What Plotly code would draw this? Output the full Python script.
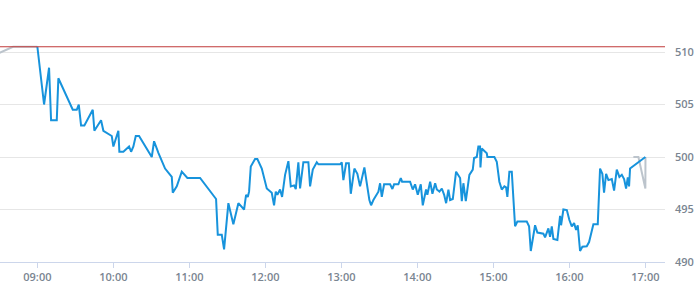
import plotly.graph_objects as go

DAY = "2024-01-02 "

price_times = [
    "09:00:00", "09:05:17", "09:09:14", "09:10:49", "09:15:19", "09:16:35", "09:27:57", "09:31:06",
    "09:32:41", "09:34:30", "09:37:06", "09:43:44", "09:45:00", "09:50:17", "09:52:06", "09:58:44",
    "10:00:00", "10:03:57", "10:04:44", "10:07:54", "10:12:24", "10:14:00", "10:15:48", "10:17:41",
    "10:20:17", "10:30:19", "10:32:08", "10:35:32", "10:40:49", "10:46:07", "10:46:54", "10:50:03",
    "10:54:00", "10:58:26", "11:08:27", "11:21:05", "11:22:25", "11:25:35", "11:27:24", "11:30:48",
    "11:34:44", "11:38:41", "11:43:11", "11:44:46", "11:46:07", "11:47:08", "11:48:29", "11:51:52",
    "11:53:41", "11:57:10", "12:01:07", "12:05:03", "12:06:52", "12:08:13", "12:09:29", "12:11:37",
    "12:13:12", "12:15:34", "12:18:10", "12:20:04", "12:22:40", "12:24:00", "12:26:03", "12:27:24",
    "12:30:00", "12:33:57", "12:35:18", "12:37:26", "12:40:35", "12:41:51", "12:59:00", "13:00:19",
    "13:01:35", "13:03:44", "13:05:52", "13:07:26", "13:10:16", "13:12:38", "13:14:45", "13:18:10",
    "13:22:07", "13:23:28", "13:25:17", "13:29:14", "13:30:34", "13:31:55", "13:33:44", "13:38:28",
    "13:40:17", "13:41:37", "13:45:01", "13:46:55", "13:47:56", "13:54:15", "13:56:22", "13:58:11",
    "14:00:19", "14:02:41", "14:04:16", "14:06:52", "14:07:53", "14:10:05", "14:11:54", "14:14:02",
    "14:15:22", "14:17:25", "14:19:19", "14:21:08", "14:22:42", "14:24:31", "14:25:51", "14:27:58",
    "14:30:34", "14:33:44", "14:35:05", "14:36:20", "14:38:14", "14:41:04", "14:43:45", "14:44:46",
    "14:46:54", "14:48:09", "14:49:30", "14:49:48", "14:50:50", "14:54:48", "14:55:16", "15:00:48",
    "15:02:41", "15:04:44", "15:06:38", "15:08:41", "15:10:02", "15:11:03", "15:12:38", "15:14:32",
    "15:17:08", "15:18:57", "15:26:22", "15:28:11", "15:29:32", "15:32:56", "15:34:45", "15:39:29",
    "15:40:49", "15:43:26", "15:44:46", "15:46:07", "15:47:23", "15:50:32", "15:52:40", "15:53:28",
    "15:55:17", "15:58:00", "16:00:00", "16:01:55", "16:03:44", "16:05:18", "16:06:37", "16:08:27",
    "16:10:16", "16:13:44", "16:15:34", "16:18:58", "16:22:25", "16:24:14", "16:26:03", "16:27:23",
    "16:29:00", "16:30:49", "16:33:30", "16:35:18", "16:37:26", "16:39:30", "16:41:24", "16:43:13",
    "16:44:47", "16:46:07", "16:47:08", "16:47:55", "17:00:00",
]

price_values = [
    510.5, 505.0, 508.5, 503.5, 503.5, 507.5, 504.5, 504.5,
    505.0, 503.0, 503.0, 504.5, 502.5, 503.5, 502.5, 502.0,
    501.0, 502.5, 500.5, 500.5, 501.0, 500.5, 501.0, 502.0,
    502.0, 500.0, 501.5, 500.4, 498.9, 498.1, 496.6, 497.2,
    498.6, 498.0, 498.0, 496.0, 492.6, 492.6, 491.2, 495.6,
    493.6, 495.6, 495.0, 496.4, 496.2, 496.7, 499.1, 499.8,
    499.8, 498.9, 497.0, 496.6, 495.4, 496.7, 496.4, 496.9,
    496.2, 498.3, 499.6, 497.2, 497.3, 496.95, 499.5, 497.0,
    499.5, 499.5, 497.2, 498.8, 499.5, 499.3, 499.3, 499.5,
    497.8, 499.4, 499.4, 496.5, 498.9, 498.4, 497.2, 499.0,
    495.9, 495.4, 495.9, 496.7, 497.5, 496.2, 497.4, 497.4,
    496.95, 497.4, 497.4, 498.0, 497.65, 497.65, 496.9, 497.4,
    496.4, 497.4, 495.4, 496.9, 496.4, 497.65, 496.5, 497.5,
    496.9, 496.7, 497.0, 496.4, 495.6, 496.9, 495.9, 496.0,
    498.6, 498.0, 495.8, 497.5, 495.8, 498.3, 498.8, 499.9,
    500.0, 501.0, 501.0, 499.0, 500.8, 500.35, 500.0, 500.0,
    499.55, 497.65, 496.9, 497.2, 497.1, 496.2, 498.6, 498.6,
    493.4, 493.85, 493.85, 493.4, 491.05, 493.5, 492.8, 492.7,
    492.35, 493.2, 492.4, 493.4, 492.2, 492.1, 494.4, 493.5,
    495.0, 494.95, 494.0, 493.4, 493.7, 493.05, 493.5, 491.05,
    491.45, 491.5, 491.9, 493.6, 493.6, 498.9, 498.4, 496.6,
    498.4, 497.8, 497.9, 496.8, 498.8, 498.1, 498.3, 497.9,
    497.0, 498.05, 497.2, 498.9, 500.0,
]

ext_times = ["08:28:00", "08:40:49", "09:00:00", None, "16:50:32", "16:54:30", "17:00:00", "17:00:05"]
ext_values = [509.8, 510.5, 510.5, None, 500.0, 500.0, 497.0, 500.0]

prev_close = 510.5

x_ticks = ["09:00", "10:00", "11:00", "12:00", "13:00", "14:00", "15:00", "16:00", "17:00"]
y_ticks = [490, 495, 500, 505, 510]

fig = go.Figure()
fig.add_trace(go.Scatter(
    x=[DAY + t if t else None for t in ext_times], y=ext_values, mode="lines",
    line=dict(color="#bcc4cc", width=2), connectgaps=False, hoverinfo="skip",
))
fig.add_trace(go.Scatter(
    x=[DAY + t for t in price_times], y=price_values, mode="lines",
    line=dict(color="#1793dc", width=2),
))
fig.add_shape(type="line", xref="paper", x0=0, x1=1, yref="y", y0=prev_close, y1=prev_close,
              line=dict(color="#c03a3a", width=1))

font_c = "#7a8591"
fig.update_layout(
    width=695, height=300,
    margin=dict(l=0, r=30, t=10, b=38),
    paper_bgcolor="white", plot_bgcolor="white",
    showlegend=False,
    font=dict(family="Open Sans", size=11, color=font_c),
    xaxis=dict(
        type="date",
        range=[DAY + "08:30:30", DAY + "17:15:30"],
        tickvals=[DAY + t + ":00" for t in x_ticks],
        ticktext=x_ticks,
        showgrid=False, zeroline=False,
        showline=True, linecolor="#ccd6eb", linewidth=1,
        ticks="outside", ticklen=5, tickcolor="#ccd6eb",
        tickfont=dict(family="Open Sans", size=11, color=font_c, weight=600),
    ),
    yaxis=dict(
        side="right", range=[490, 514],
        tickvals=y_ticks, ticktext=[str(v) for v in y_ticks],
        showgrid=True, gridcolor="#e6e6e6", gridwidth=1,
        zeroline=False, showline=False, ticks="",
        ticklabelstandoff=9,
        tickfont=dict(family="Open Sans", size=11, color=font_c, weight=600),
    ),
)

fig.write_html("out.html")
